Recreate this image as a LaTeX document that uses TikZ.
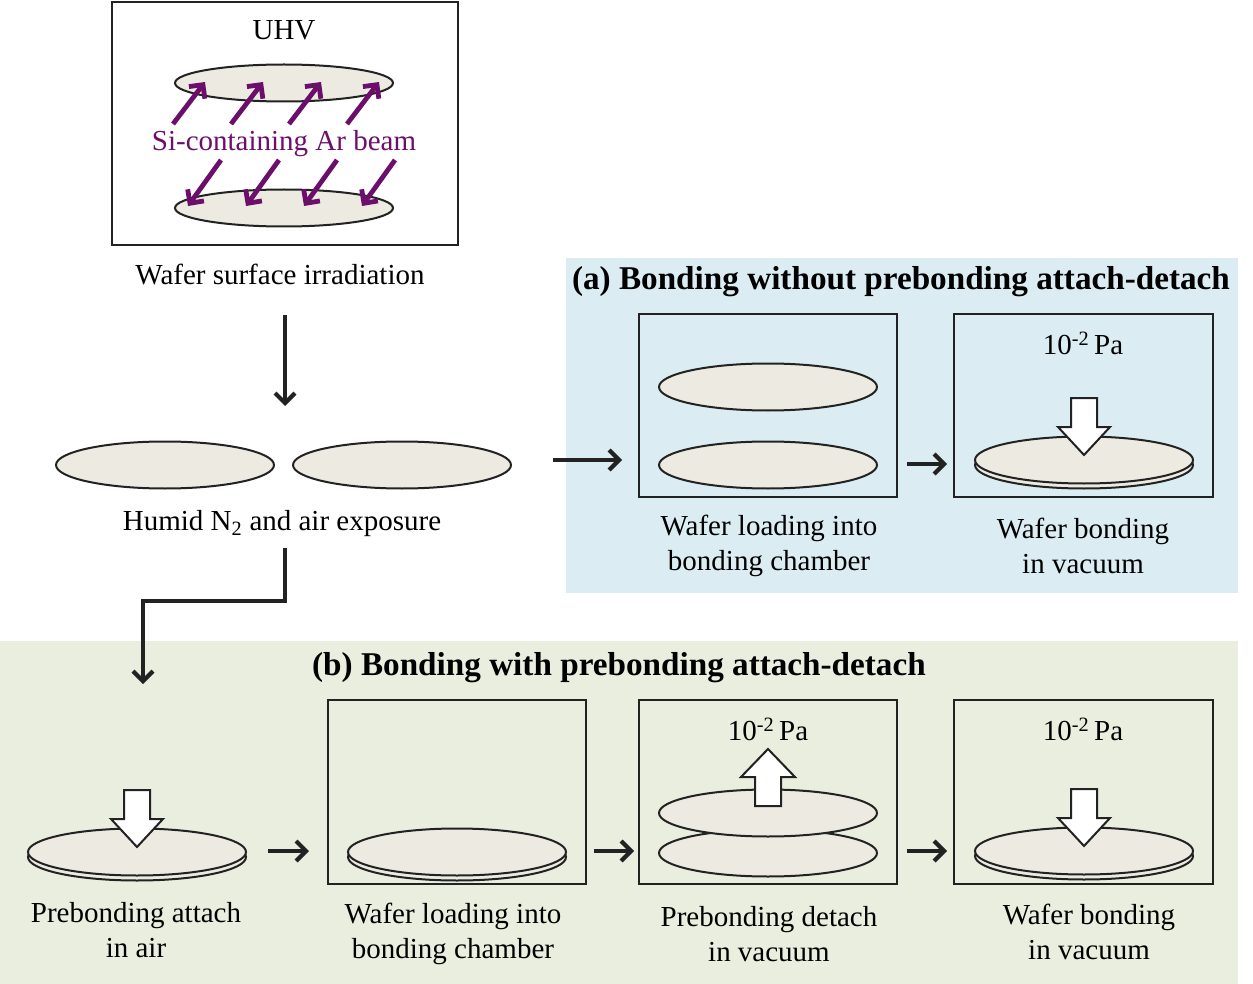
\documentclass[tikz,border=0pt]{standalone}
\usepackage{fontspec}
\setmainfont{Liberation Serif}
\usetikzlibrary{arrows.meta,shapes.geometric}
\definecolor{linec}{HTML}{222222}
\definecolor{waferc}{HTML}{EDEBE1}
\definecolor{bluebg}{HTML}{DBEDF3}
\definecolor{greenbg}{HTML}{EAEEDF}
\definecolor{purplec}{HTML}{6B0F6B}
\tikzset{
  wafer/.style={ellipse, draw=linec, line width=2pt, fill=waferc, minimum width=218pt, minimum height=47pt, inner sep=0pt},
  thinwafer/.style={wafer, minimum height=37pt},
  box/.style={draw=linec, line width=2pt, inner sep=0pt},
  txt/.style={font=\fontsize{29}{35}\selectfont, align=center, text=black, inner sep=0pt, yshift=-2.5pt},
  title/.style={font=\fontsize{33.2}{36}\selectfont\bfseries, text=black, inner sep=0pt, yshift=-3pt},
  conn/.style={draw=linec, line width=4.2pt, -{Straight Barb[length=10pt,width=20pt,line width=4.2pt]}},
  beam/.style={draw=purplec, line width=4.8pt, -{Straight Barb[length=10pt,width=20pt,line width=4.8pt]}},
  blockarrow/.style={draw=linec, line width=2pt, fill=white, line join=miter},
}
\newcommand{\downblock}[2]{%
  \draw[blockarrow] (#1-13,#2-62) -- (#1+13,#2-62) -- (#1+13,#2-33) -- (#1+26,#2-33)
    -- (#1,#2-5) -- (#1-26,#2-33) -- (#1-13,#2-33) -- cycle;}
\begin{document}
\begin{tikzpicture}[x=1pt,y=-1pt]
\useasboundingbox (0,0) rectangle (1253,984);
% backgrounds
\fill[bluebg] (566,258) rectangle (1238,593);
\fill[greenbg] (0,641) rectangle (1238,984);

% ---- top: UHV irradiation
\node[box, minimum width=346pt, minimum height=243pt] (uhv) at (285,123.5) {};
\node[txt] (uhvt) at (284,28) {UHV};
\node[thinwafer] (wt) at (284,83) {};
\node[thinwafer] (wb) at (284,208) {};
\foreach \k in {0,1,2,3} {
  \draw[beam] ({173+58*\k},124) -- ({205+58*\k},82);
  \draw[beam] ({221+58*\k},160) -- ({188+58*\k},206);
}
\node[txt, text=purplec] (beamt) at (284,141) {Si-containing Ar beam};
\node[txt] (irr) at (280,272) {Wafer surface irradiation};

% ---- humid exposure
\node[wafer] (h1) at (165,465) {};
\node[wafer] (h2) at (402,465) {};
\node[txt] (hum) at (282,521) {Humid N\textsubscript{2} and air exposure};
\coordinate (d1s) at (285,315);
\coordinate (d1e) at (285,406);
\draw[conn] (d1s) -- (d1e);

% ---- (a)
\node[title] (ta) at (901,279) {(a) Bonding without prebonding attach-detach};
\coordinate (ra1) at (553,460);
\coordinate (ra2) at (622,460);
\draw[conn] (ra1) -- (ra2);
\node[box, minimum width=258pt, minimum height=183pt] (a1) at (768,405.5) {};
\node[wafer] (a1t) at (768,387) {};
\node[wafer] (a1b) at (768,465) {};
\node[txt] (a1l) at (769,543) {Wafer loading into\\bonding chamber};
\node[box, minimum width=259pt, minimum height=183pt] (a2) at (1083.5,405.5) {};
\node[txt] (a2p) at (1083,341) {10\textsuperscript{-2}\,Pa};
\node[wafer] (a2b) at (1084,465) {};
\node[wafer] (a2t) at (1084,460) {};
\downblock{1084}{460}
\node[txt] (a2l) at (1083,543) {Wafer bonding\\in vacuum};
\draw[conn] ([xshift=9pt]a1.east |- 0,464) -- ([xshift=-6pt]a2.west |- 0,464);

% ---- elbow to (b)
\coordinate (e0) at (285,548);
\coordinate (e1) at (143,684);
\draw[conn] (e0) -- (285,601) -- (143,601) -- (e1);

% ---- (b)
\node[title] (tb) at (619,665) {(b) Bonding with prebonding attach-detach};
\node[wafer] (b0b) at (137,857) {};
\node[wafer] (b0t) at (137,852) {};
\downblock{137}{852}
\node[txt] (b0l) at (136,928) {Prebonding attach\\in air};

\node[box, minimum width=258pt, minimum height=184pt] (b1) at (457,792) {};
\node[wafer] (b1b) at (457,857) {};
\node[wafer] (b1t) at (457,852) {};
\node[txt] (b1l) at (453,931) {Wafer loading into\\bonding chamber};

\node[box, minimum width=258pt, minimum height=184pt] (b2) at (768,792) {};
\node[txt] (b2p) at (768,727) {10\textsuperscript{-2}\,Pa};
\node[wafer] (b2b) at (768,853) {};
\node[wafer] (b2t) at (768,813) {};
\draw[blockarrow] (755,806) -- (781,806) -- (781,777) -- (795,777) -- (768,749)
  -- (741,777) -- (755,777) -- cycle;
\node[txt] (b2l) at (769,932) {Prebonding detach\\in vacuum};

\node[box, minimum width=259pt, minimum height=184pt] (b3) at (1083.5,792) {};
\node[txt] (b3p) at (1083,727) {10\textsuperscript{-2}\,Pa};
\node[wafer] (b3b) at (1084,856) {};
\node[wafer] (b3t) at (1084,851) {};
\downblock{1084}{851}
\node[txt] (b3l) at (1089,929) {Wafer bonding\\in vacuum};

\coordinate (c0) at (268,851);
\draw[conn] (c0) -- ([xshift=-18pt]b1.west |- c0);
\draw[conn] ([xshift=7pt]b1.east |- c0) -- ([xshift=-4pt]b2.west |- c0);
\draw[conn] ([xshift=9pt]b2.east |- c0) -- ([xshift=-6pt]b3.west |- c0);
\end{tikzpicture}
\end{document}
